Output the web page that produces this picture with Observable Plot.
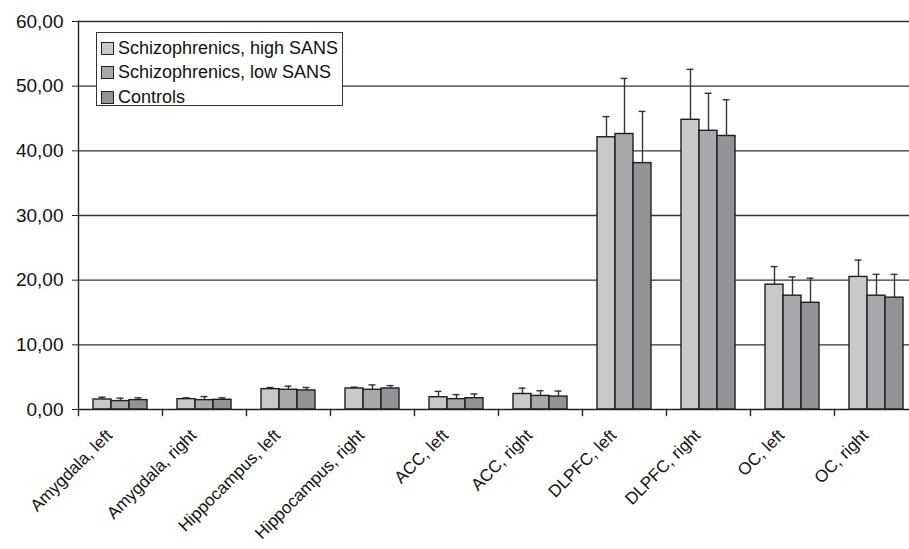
<!DOCTYPE html>
<html>
<head>
<meta charset="utf-8">
<script src="https://cdn.jsdelivr.net/npm/d3@7"></script>
<script src="https://cdn.jsdelivr.net/npm/@observablehq/plot@0.6"></script>
<style>
  html, body { margin: 0; padding: 0; background: #fff; overflow: hidden; }
  #wrap { position: relative; width: 909px; height: 549px; overflow: hidden; }
  #legend { position: absolute; left: 96px; top: 32px; width: 247px; height: 74px;
    border: 1.3px solid #333; background: #fff; font-family: "Liberation Sans", Arial, sans-serif;
    font-size: 18px; color: #111; box-sizing: border-box; padding-top: 3px; }
  .row { display: flex; align-items: center; height: 24.5px; padding-left: 4px; }
  .sw { width: 11px; height: 11px; border: 1.2px solid #222; margin-right: 4px; flex: none; }
</style>
</head>
<body>
<div id="wrap"><div id="legend"></div></div>
<script>
const categories = ["Amygdala, left", "Amygdala, right", "Hippocampus, left", "Hippocampus, right",
  "ACC, left", "ACC, right", "DLPFC, left", "DLPFC, right", "OC, left", "OC, right"];
const series = ["Schizophrenics, high SANS", "Schizophrenics, low SANS", "Controls"];
const colors = ["#c8c9cb", "#a7a8ab", "#929397"];

const highMean = [1.55, 1.6, 3.15, 3.25, 1.9, 2.4, 42.1, 44.8, 19.3, 20.5];
const highErr  = [1.9, 1.8, 3.4, 3.45, 2.8, 3.3, 45.3, 52.6, 22.1, 23.1];
const lowMean  = [1.3, 1.45, 3.05, 3.05, 1.6, 2.1, 42.6, 43.1, 17.6, 17.6];
const lowErr   = [1.75, 2.0, 3.6, 3.8, 2.3, 2.9, 51.2, 48.9, 20.5, 20.9];
const ctrlMean = [1.45, 1.5, 2.95, 3.25, 1.75, 2.0, 38.1, 42.3, 16.5, 17.3];
const ctrlErr  = [1.8, 1.8, 3.4, 3.7, 2.4, 2.85, 46.1, 47.9, 20.3, 20.9];
const yTicks = [0, 10, 20, 30, 40, 50, 60];

const means = [highMean, lowMean, ctrlMean];
const errs = [highErr, lowErr, ctrlErr];
const data = [];
categories.forEach((c, i) => series.forEach((s, j) => {
  data.push({category: c, series: s, mean: means[j][i], top: errs[j][i]});
}));

const W = 918, H = 549, mTop = 21, mBottom = 140, mLeft = 78;
const innerH = H - mTop - mBottom;
const font = "Liberation Sans, Arial, sans-serif";
const chart = Plot.plot({
  width: W,
  height: H,
  marginLeft: mLeft,
  marginRight: 0,
  marginTop: mTop,
  marginBottom: mBottom,
  style: {fontFamily: font, maxWidth: "none", background: "#fff", overflow: "visible"},
  fx: {domain: categories, padding: 0, axis: null, label: null},
  x: {domain: series, paddingInner: 0, paddingOuter: 0.75, axis: null},
  y: {domain: [0, 60], axis: null},
  color: {domain: series, range: colors},
  marks: [
    Plot.ruleY(yTicks.slice(1), {stroke: "#333", strokeWidth: 1.3}),
    Plot.ruleX(data, {fx: "category", x: "series", y1: "mean", y2: "top", stroke: "#333", strokeWidth: 1.4}),
    Plot.tickY(data, {fx: "category", x: "series", y: "top", stroke: "#333", strokeWidth: 1.4, insetLeft: 5.5, insetRight: 5.5}),
    Plot.barY(data, {fx: "category", x: "series", y: "mean", fill: "series", stroke: "#1e1e1e", strokeWidth: 1.4}),
    Plot.ruleY([0], {stroke: "#222", strokeWidth: 1.4}),
    Plot.frame({anchor: "left", fx: [categories[0]], stroke: "#222", strokeWidth: 1.4}),
    // category boundary ticks below the baseline (left edge of each facet)
    Plot.frame({anchor: "left", insetTop: innerH, insetBottom: -6, stroke: "#222", strokeWidth: 1.4}),
    Plot.axisY({ticks: yTicks, tickSize: 6, tickPadding: 9, fontSize: 19, stroke: "#222",
      tickFormat: d => d3.format(".2f")(d).replace(".", ","), anchor: "left", color: "#111"}),
    Plot.text(categories, {fx: d => d, text: d => d, frameAnchor: "bottom", rotate: -45,
      textAnchor: "end", lineAnchor: "middle", dx: -11, dy: 23, fontSize: 17, fill: "#111"})
  ]
});
document.getElementById("wrap").prepend(chart);

const legend = document.getElementById("legend");
series.forEach((s, j) => {
  const row = document.createElement("div");
  row.className = "row";
  const sw = document.createElement("span");
  sw.className = "sw";
  sw.style.background = colors[j];
  const t = document.createElement("span");
  t.textContent = s;
  row.append(sw, t);
  legend.append(row);
});
</script>
</body>
</html>
